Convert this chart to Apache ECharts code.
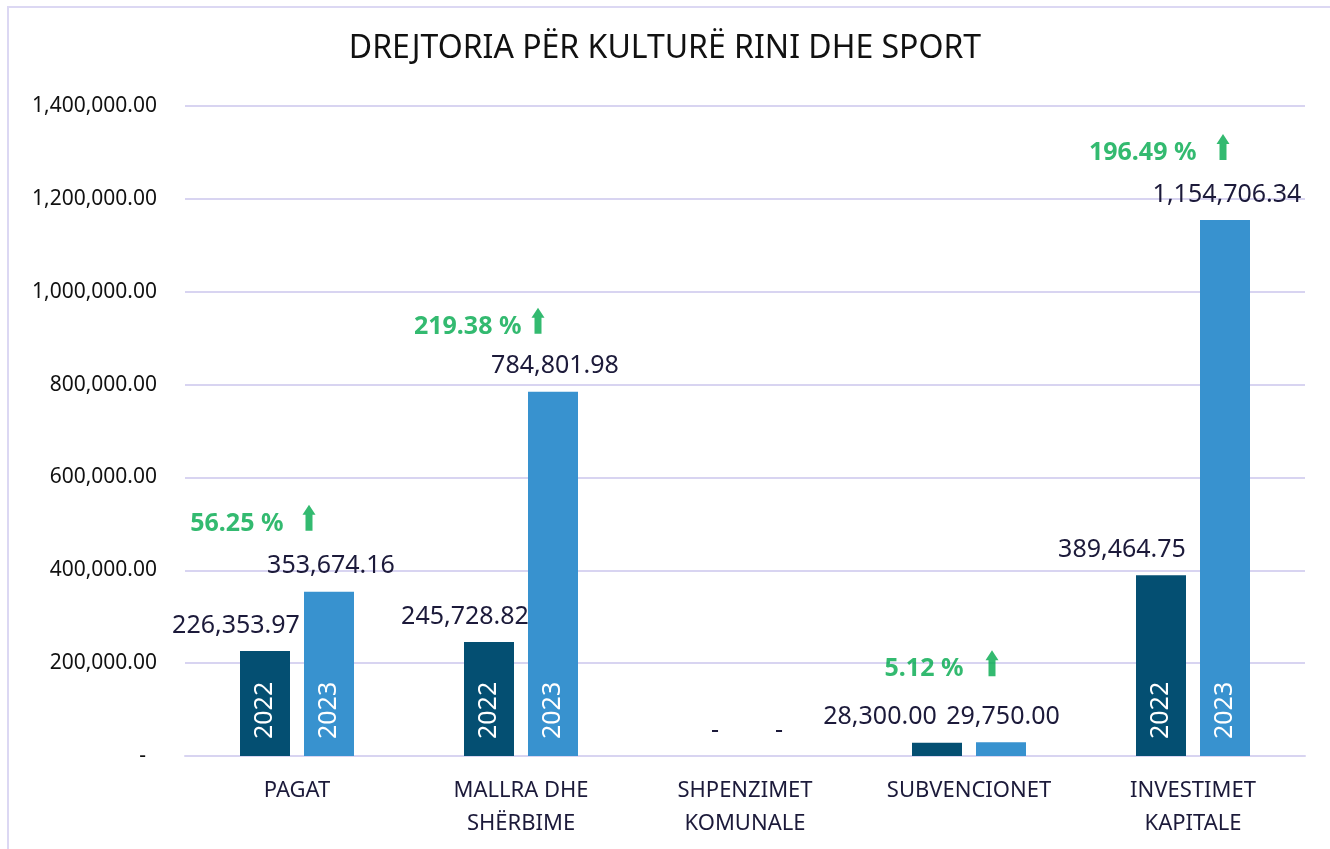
<!DOCTYPE html>
<html>
<head>
<meta charset="utf-8">
<script src="https://cdn.jsdelivr.net/npm/echarts@6/dist/echarts.min.js"></script>
<style>
  html, body { margin: 0; padding: 0; background: #fff; }
  #chart { width: 1330px; height: 849px; }
  .frame {
    position: absolute; left: 7px; top: 6px; width: 1400px; height: 900px;
    border-left: 2px solid #dcd8f3; border-top: 2px solid #dcd8f3;
    pointer-events: none;
  }
</style>
</head>
<body>
<div id="chart"></div>
<div class="frame"></div>
<script>
const categories = ['PAGAT', 'MALLRA DHE\nSHËRBIME', 'SHPENZIMET\nKOMUNALE', 'SUBVENCIONET', 'INVESTIMET\nKAPITALE']
const years = ['2022', '2023']
const values2022 = [226353.97, 245728.82, 0, 28300.00, 389464.75]
const values2023 = [353674.16, 784801.98, 0, 29750.00, 1154706.34]
const growth = ['56.25 %', '219.38 %', null, '5.12 %', '196.49 %']
const yTicks = { min: 0, max: 1400000, interval: 200000 }

// small nudges so the labels sit where the original put them
const shift2022 = [-29, -24, 2, -57, -39]
const arrowShift = [[12, -74], [17, -71], null, [23, -79], [30, -73]]
const pctGap = [19, 10, null, 22, 20]

const FONT = 'Noto Sans'
const C2022 = '#044f72'
const C2023 = '#3892cf'
const TXT = '#1c1a3a'
const GRID = '#d8d4f1'
const GREEN = '#00a94c'

const fmt = v => v === 0 ? '-' : v.toLocaleString('en-US', { minimumFractionDigits: 2, maximumFractionDigits: 2 })

const chart = echarts.init(document.getElementById('chart'))

const baseBar = (name, vals, color, stack) => ({
  name, type: 'bar', stack, barWidth: 50, barGap: '28%',
  itemStyle: { color },
  data: vals.map(v => ({
    value: v,
    label: { show: v > 100000 }
  })),
  label: {
    position: 'insideBottom', rotate: 90, distance: 17, align: 'left', verticalAlign: 'middle',
    color: '#fff', fontFamily: FONT, fontSize: 25,
    formatter: name
  }
})

const topLabels = (vals, stack, shifts) => ({
  type: 'bar', stack, barWidth: 50, barGap: '28%',
  itemStyle: { color: 'transparent' },
  silent: true,
  data: vals.map((v, i) => ({
    value: 0,
    label: { offset: [shifts ? shifts[i] : 2, 0] }
  })),
  label: {
    show: true, position: 'top', distance: 13,
    color: TXT, fontFamily: FONT, fontSize: 25,
    formatter: p => fmt(vals[p.dataIndex])
  }
})

const pctData = growth.map((g, i) => g == null ? null : {
  value: [i, values2023[i]],
  symbolOffset: arrowShift[i],
  label: { distance: pctGap[i], offset: [0, 6] }
}).filter(d => d)

const pctIndex = growth.map((g, i) => g == null ? null : i).filter(i => i != null)

chart.setOption({
  animation: false,
  title: {
    text: 'DREJTORIA PËR KULTURË RINI DHE SPORT',
    left: 'center', top: 28,
    textStyle: { fontFamily: FONT, fontSize: 32, fontWeight: 'normal', color: '#111' }
  },
  grid: { left: 185, right: 25, top: 106, bottom: 93 },
  xAxis: {
    type: 'category',
    data: categories,
    axisLine: { lineStyle: { color: GRID, width: 2 } },
    axisTick: { show: false },
    axisLabel: { color: TXT, fontFamily: FONT, fontSize: 22, lineHeight: 33, margin: 18 }
  },
  yAxis: {
    type: 'value',
    min: yTicks.min, max: yTicks.max, interval: yTicks.interval,
    axisLine: { show: false },
    axisTick: { show: false },
    splitLine: { lineStyle: { color: GRID, width: 2 } },
    axisLabel: {
      color: '#111', fontFamily: FONT, fontSize: 21, margin: 28,
      formatter: v => v === 0 ? '-  ' : fmt(v)
    }
  },
  series: [
    baseBar(years[0], values2022, C2022, 's22'),
    topLabels(values2022, 's22', shift2022),
    baseBar(years[1], values2023, C2023, 's23'),
    topLabels(values2023, 's23', null),
    {
      type: 'scatter',
      z: 5,
      symbol: 'path://M6.5,0 L13,10 L10,10 L10,26 L3,26 L3,10 L0,10 Z',
      symbolSize: [13, 26],
      itemStyle: { color: GREEN },
      data: pctData,
      label: {
        show: true, position: 'left',
        color: GREEN, fontFamily: FONT, fontSize: 25, fontWeight: 'bold',
        formatter: p => growth[pctIndex[p.dataIndex]]
      }
    }
  ]
})
</script>
</body>
</html>
